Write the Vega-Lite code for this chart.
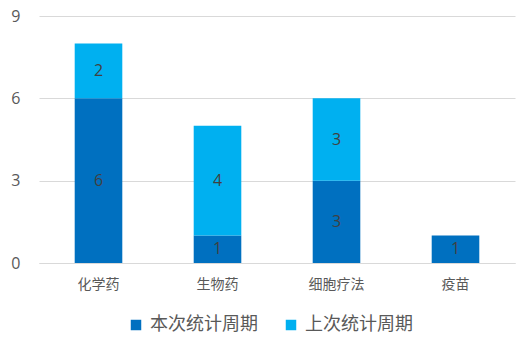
{
  "$schema": "https://vega.github.io/schema/vega-lite/v6.json",
  "width": 476,
  "height": 247,
  "autosize": {"type": "none"},
  "padding": {"left": 39, "top": 16, "right": 16, "bottom": 91},
  "background": "white",
  "config": {
    "view": {"stroke": null},
    "font": "Noto Sans CJK SC"
  },
  "data": {
    "values": [
      {"category": "化学药", "series": "本次统计周期", "ord": 0, "value": 6},
      {"category": "化学药", "series": "上次统计周期", "ord": 1, "value": 2},
      {"category": "生物药", "series": "本次统计周期", "ord": 0, "value": 1},
      {"category": "生物药", "series": "上次统计周期", "ord": 1, "value": 4},
      {"category": "细胞疗法", "series": "本次统计周期", "ord": 0, "value": 3},
      {"category": "细胞疗法", "series": "上次统计周期", "ord": 1, "value": 3},
      {"category": "疫苗", "series": "本次统计周期", "ord": 0, "value": 1},
      {"category": "疫苗", "series": "上次统计周期", "ord": 1, "value": 0}
    ]
  },
  "transform": [
    {"stack": "value", "groupby": ["category"], "sort": [{"field": "ord", "order": "ascending"}], "as": ["v0", "v1"]},
    {"calculate": "(datum.v0 + datum.v1) / 2", "as": "vmid"}
  ],
  "encoding": {
    "x": {
      "field": "category",
      "type": "nominal",
      "sort": ["化学药", "生物药", "细胞疗法", "疫苗"],
      "scale": {"paddingInner": 0.6, "paddingOuter": 0.3},
      "axis": {
        "title": null,
        "labelAngle": 0,
        "labelFontSize": 14,
        "labelColor": "#595959",
        "labelPadding": 14,
        "ticks": false,
        "domain": true,
        "domainColor": "#d9d9d9",
        "domainWidth": 1
      }
    }
  },
  "layer": [
    {
      "mark": {"type": "bar"},
      "encoding": {
        "y": {
          "field": "v0",
          "type": "quantitative",
          "scale": {"domain": [0, 9]},
          "axis": {
            "title": null,
            "values": [0, 3, 6, 9],
            "labelFont": "Open Sans",
            "labelFontSize": 16,
            "labelColor": "#595959",
            "labelPadding": 19,
            "ticks": false,
            "domain": false,
            "grid": true,
            "gridColor": "#d9d9d9",
            "gridWidth": 1
          }
        },
        "y2": {"field": "v1"},
        "color": {
          "field": "series",
          "type": "nominal",
          "scale": {"domain": ["本次统计周期", "上次统计周期"], "range": ["#0070C0", "#00B0F0"]},
          "legend": {
            "title": null,
            "orient": "none",
            "direction": "horizontal",
            "legendX": 88,
            "legendY": 300,
            "symbolType": "square",
            "symbolSize": 110,
            "symbolStrokeWidth": 0,
            "labelFontSize": 18,
            "labelColor": "#595959",
            "columnPadding": 24,
            "labelOffset": 5
          }
        },
        "order": {"field": "ord", "type": "quantitative"}
      }
    },
    {
      "transform": [{"filter": "datum.value > 0"}],
      "mark": {"type": "text", "font": "Open Sans", "fontSize": 16, "color": "#404040", "baseline": "middle"},
      "encoding": {
        "y": {"field": "vmid", "type": "quantitative"},
        "text": {"field": "value", "type": "quantitative"}
      }
    }
  ]
}
